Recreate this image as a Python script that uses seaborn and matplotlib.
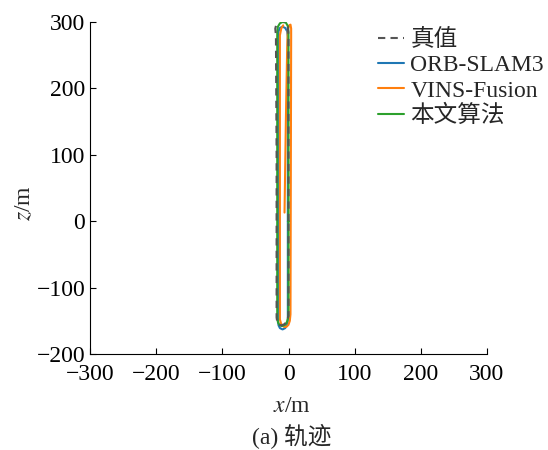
import matplotlib
matplotlib.use("Agg")
import matplotlib.pyplot as plt
import seaborn as sns
import pandas as pd

sns.set_theme(style="ticks")
plt.rcParams["font.family"] = ["Liberation Serif", "Noto Sans CJK SC"]
plt.rcParams["mathtext.fontset"] = "stix"
plt.rcParams["axes.unicode_minus"] = True

# Trajectory waypoints (x, z) in metres
truth_x = [0, 0, -1, -4, -9, -14, -18, -20, -19, -18, -18, -17, -15, -11, -6, -2, 0, 0]
truth_z = [0, 280, 292, 299, 302, 302, 298, 290, 280, 100, -145, -152, -156, -157, -155, -150, -142, 0]

orb_x = [-1, -1, -2, -5, -9, -13, -15, -16, -16, -15, -13, -9, -5, -2, -1, -1]
orb_z = [0, 278, 286, 291, 293, 291, 286, 278, -150, -157, -161, -163, -161, -156, -148, 0]

vins_x = [-6, -4, -2, -1, 1, 3, 4, 4, 3, 2, 0, -3, -7, -11, -13, -13, -13, -11, -8]
vins_z = [13, 150, 260, 288, 295, 296, 290, 275, -140, -150, -156, -159, -159, -155, -148, 0, 280, 290, 295]

ours_x = [0, 0, -1, -4, -9, -13, -16, -17, -17, -16, -14, -10, -5, -2, 0, 0]
ours_z = [0, 285, 294, 299, 300, 298, 293, 285, -145, -152, -156, -158, -156, -151, -143, 0]

series = [
    ("真值", truth_x, truth_z, "#555555", (0, (3.5, 2.5)), 5),
    ("ORB-SLAM3", orb_x, orb_z, "#1f77b4", "-", 2),
    ("VINS-Fusion", vins_x, vins_z, "#ff7f0e", "-", 3),
    ("本文算法", ours_x, ours_z, "#2ca02c", "-", 4),
]

x_ticks = [-300, -200, -100, 0, 100, 200, 300]
z_ticks = [-200, -100, 0, 100, 200, 300]

FS = 17
W, H = 548, 450
fig = plt.figure(figsize=(W / 100, H / 100), dpi=100)
ax = fig.add_axes([90 / W, 1 - 354 / H, 397 / W, 332 / H])

handles = []
for name, xs, zs, color, ls, z in series:
    df = pd.DataFrame({"x": xs, "z": zs})
    sns.lineplot(data=df, x="x", y="z", sort=False, estimator=None, ax=ax,
                 color=color, linewidth=1.5, zorder=z, label=name)
    line = ax.lines[-1]
    line.set_linestyle(ls)
    handles.append(line)

ax.set_xlim(-300, 300)
ax.set_ylim(-200, 300)
ax.set_xticks(x_ticks)
ax.set_yticks(z_ticks)
ax.tick_params(direction="in", length=4, width=0.8, labelsize=FS, colors="black")
ax.tick_params(axis="x", pad=7)
ax.tick_params(axis="y", pad=3.5)
for s in ["top", "right"]:
    ax.spines[s].set_visible(False)
for s in ["left", "bottom"]:
    ax.spines[s].set_linewidth(0.8)
    ax.spines[s].set_color("black")

ax.set_xlabel("")
ax.set_ylabel("")
fig.text(292 / W, 1 - 407 / H, "$x$/m", ha="center", va="center", fontsize=FS)
fig.text(25 / W, 1 - 203 / H, "$z$/m", ha="center", va="center", fontsize=FS,
         rotation=90)

ax.legend(handles=handles, labels=[s[0] for s in series], loc="upper left",
          bbox_to_anchor=(376 / W, 1 - 27 / H), bbox_transform=fig.transFigure,
          frameon=False, fontsize=FS, handlelength=1.1, handletextpad=0.25,
          labelspacing=0.15, borderpad=0.1, borderaxespad=0)

fig.text(292 / W, 1 - 437 / H, "(a) 轨迹", ha="center", va="center", fontsize=FS)

fig.savefig("out.png", dpi=100, facecolor="white")
